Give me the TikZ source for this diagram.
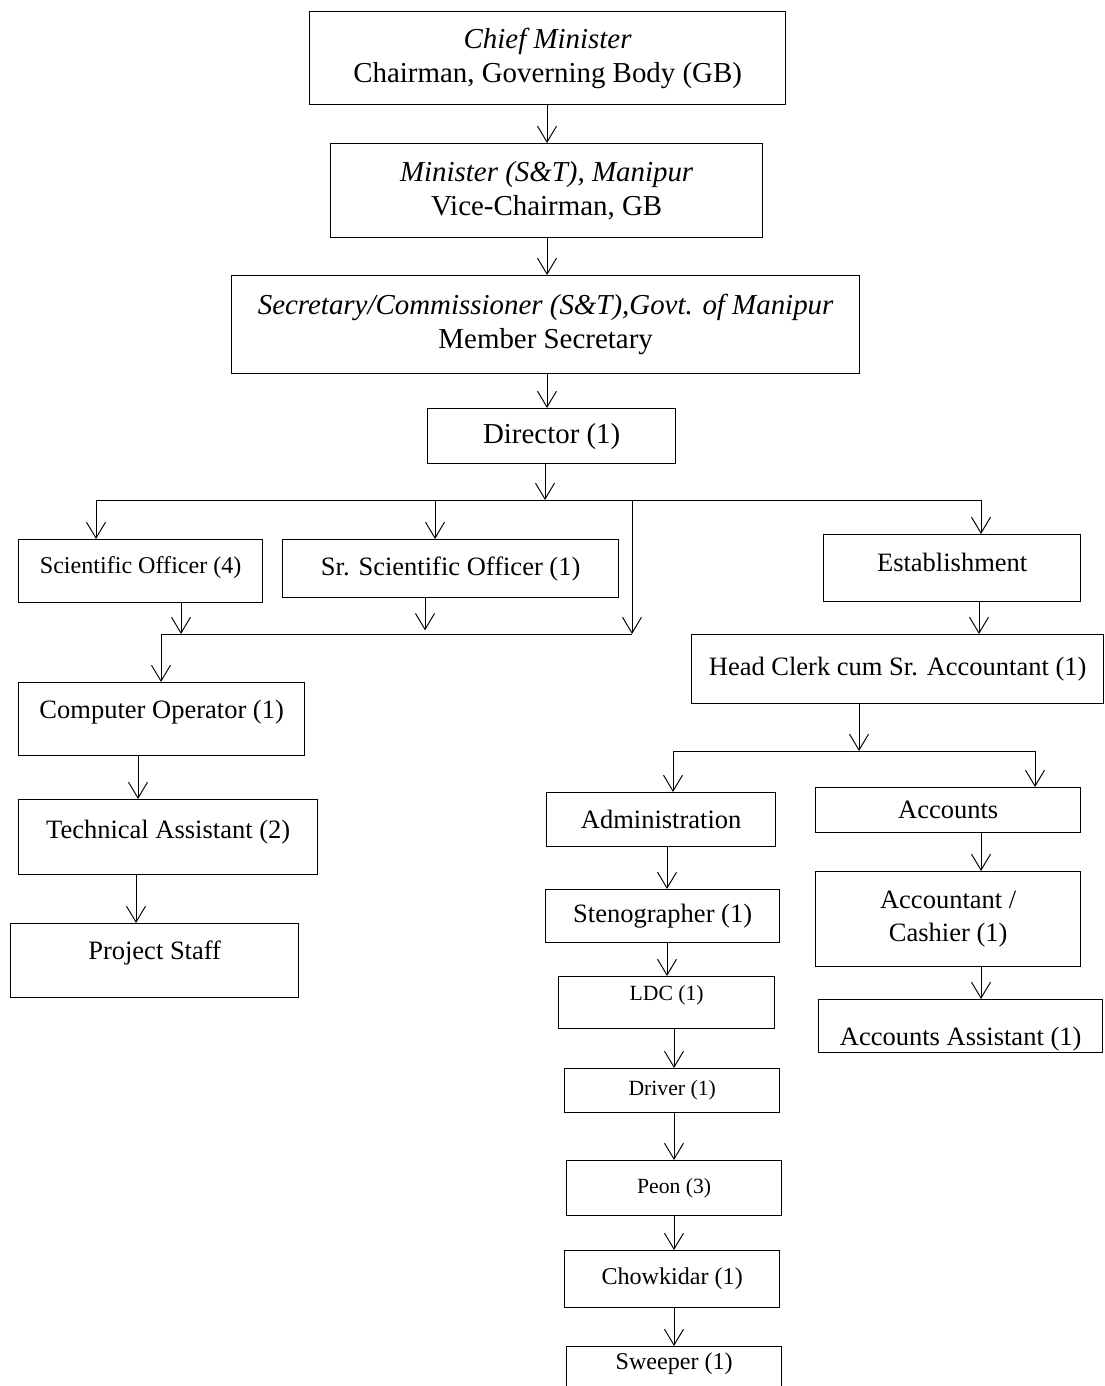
\documentclass[tikz,border=0pt]{standalone}
\usepackage{fontspec}
\setmainfont{Liberation Serif}
\usetikzlibrary{arrows.meta,positioning,calc}

\begin{document}
\begin{tikzpicture}[
  x=0.415pt, y=-0.415pt,
  blk/.style={draw,line width=0.55pt,anchor=north west,inner sep=0pt,align=center},
  sz/.style 2 args={minimum width=#1*0.415pt,minimum height=#2*0.415pt},
  lift/.style 2 args={text height=#1,text depth=#2},
  fbig/.style={font=\fontsize{12}{14}\selectfont},
  fmid/.style={font=\fontsize{11}{13.5}\selectfont},
  fsml/.style={font=\fontsize{10}{12}\selectfont},
  ftny/.style={font=\fontsize{9}{11}\selectfont},
  >={Straight Barb[length=6.6pt,width=7.9pt]}, line width=0.4pt]
  \useasboundingbox (0,0) rectangle (1105,1386);
  \clip (0,0) rectangle (1105,1386);
  % governing body
  \node[blk,fbig,sz={476}{93}] (chief) at (309,11)
    {\textit{Chief Minister}\\Chairman, Governing Body (GB)};
  \node[blk,fbig,sz={432}{94}] (minister) at (330,143)
    {\textit{Minister (S\&T), Manipur}\\Vice-Chairman, GB};
  \node[blk,fbig,sz={628}{98}] (secy) at (231,275)
    {\textit{Secretary/Commissioner (S\&T),Govt. of Manipur}\\Member Secretary};
  \node[blk,fbig,sz={248}{55}] (dir) at (427,408) {Director (1)};
  % scientific wing
  \node[blk,fsml,sz={244}{63},lift={7.5pt}{5.5pt}] (sci) at (18,539) {Scientific Officer (4)};
  \node[blk,fmid,sz={336}{58}] (srsci) at (282,539) {Sr. Scientific Officer (1)};
  \node[blk,fmid,sz={286}{73},lift={8.25pt}{8.9pt}] (compop) at (18,682) {Computer Operator (1)};
  \node[blk,fmid,sz={299}{75},lift={8.25pt}{7.2pt}] (tech) at (18,799) {Technical Assistant (2)};
  \node[blk,fmid,sz={288}{74},lift={8.25pt}{9.3pt}] (proj) at (10,923) {Project Staff};
  % establishment
  \node[blk,fmid,sz={257}{67},lift={8.25pt}{5.6pt}] (estab) at (823,534) {Establishment};
  \node[blk,fmid,sz={412}{69}] (head) at (691,634) {Head Clerk cum Sr. Accountant (1)};
  \node[blk,fmid,sz={229}{54}] (admin) at (546,792) {Administration};
  \node[blk,fmid,sz={265}{45}] (accts) at (815,787) {Accounts};
  \node[blk,fmid,sz={234}{53}] (steno) at (545,889) {Stenographer (1)};
  \node[blk,fmid,sz={265}{95}] (acccash) at (815,871) {Accountant /\\Cashier (1)};
  \node[blk,fmid,sz={284}{53},lift={19pt}{2.75pt}] (accasst) at (818,999) {Accounts Assistant (1)};
  \node[blk,ftny,sz={216}{52},lift={6.75pt}{8.3pt}] (ldc) at (558,976) {LDC (1)};
  \node[blk,ftny,sz={215}{44}] (driver) at (564,1068) {Driver (1)};
  \node[blk,ftny,sz={215}{55}] (peon) at (566,1160) {Peon (3)};
  \node[blk,fsml,sz={215}{57}] (chowk) at (564,1250) {Chowkidar (1)};
  \node[blk,fsml,sz={215}{55},lift={7.5pt}{11.3pt}] (sweep) at (566,1346) {Sweeper (1)};
  % junctions
  \coordinate (bus1) at (545,500);
  \coordinate (b1w) at (96,500);
  \coordinate (b1e) at (981,500);
  \coordinate (b2w) at (161,634);
  \coordinate (b2e) at (632,634);
  \coordinate (bus3) at (859,751);
  % connectors
  \foreach \a/\b in {chief/minister,minister/secy,secy/dir}
    \draw[->] (\a.south -| 547,0) -- (\b.north -| 547,0);
  \draw[->] (dir.south -| bus1) -- (bus1);
  \draw[<->] (sci.north -| b1w) |- (b1e) -- (estab.north -| b1e);
  \draw[->] (bus1 -| 435,0) -- (srsci.north -| 435,0);
  \draw[->] (bus1 -| b2e) -- (b2e);
  \draw[->] (sci.south -| 181,0) -- (b2w -| 181,0);
  \draw[->] (srsci.south -| 425,0) -- ++(0,32);
  \draw[->] (b2e) -- (b2w) -- (compop.north -| b2w);
  \draw[->] (compop.south -| 138,0) -- (tech.north -| 138,0);
  \draw[->] (tech.south -| 136,0) -- (proj.north -| 136,0);
  \draw[->] (estab.south -| 979,0) -- (head.north -| 979,0);
  \draw[->] (head.south -| bus3) -- (bus3);
  \draw[<->] (admin.north -| 673,0) |- (bus3 -| 1035,0) -- (accts.north -| 1035,0);
  \draw[->] (admin.south -| 667,0) -- (steno.north -| 667,0);
  \draw[->] (steno.south -| 667,0) -- (ldc.north -| 667,0);
  \foreach \a/\b in {ldc/driver,driver/peon,peon/chowk,chowk/sweep}
    \draw[->] (\a.south -| 674,0) -- (\b.north -| 674,0);
  \foreach \a/\b in {accts/acccash,acccash/accasst}
    \draw[->] (\a.south -| 981,0) -- (\b.north -| 981,0);
\end{tikzpicture}
\end{document}
